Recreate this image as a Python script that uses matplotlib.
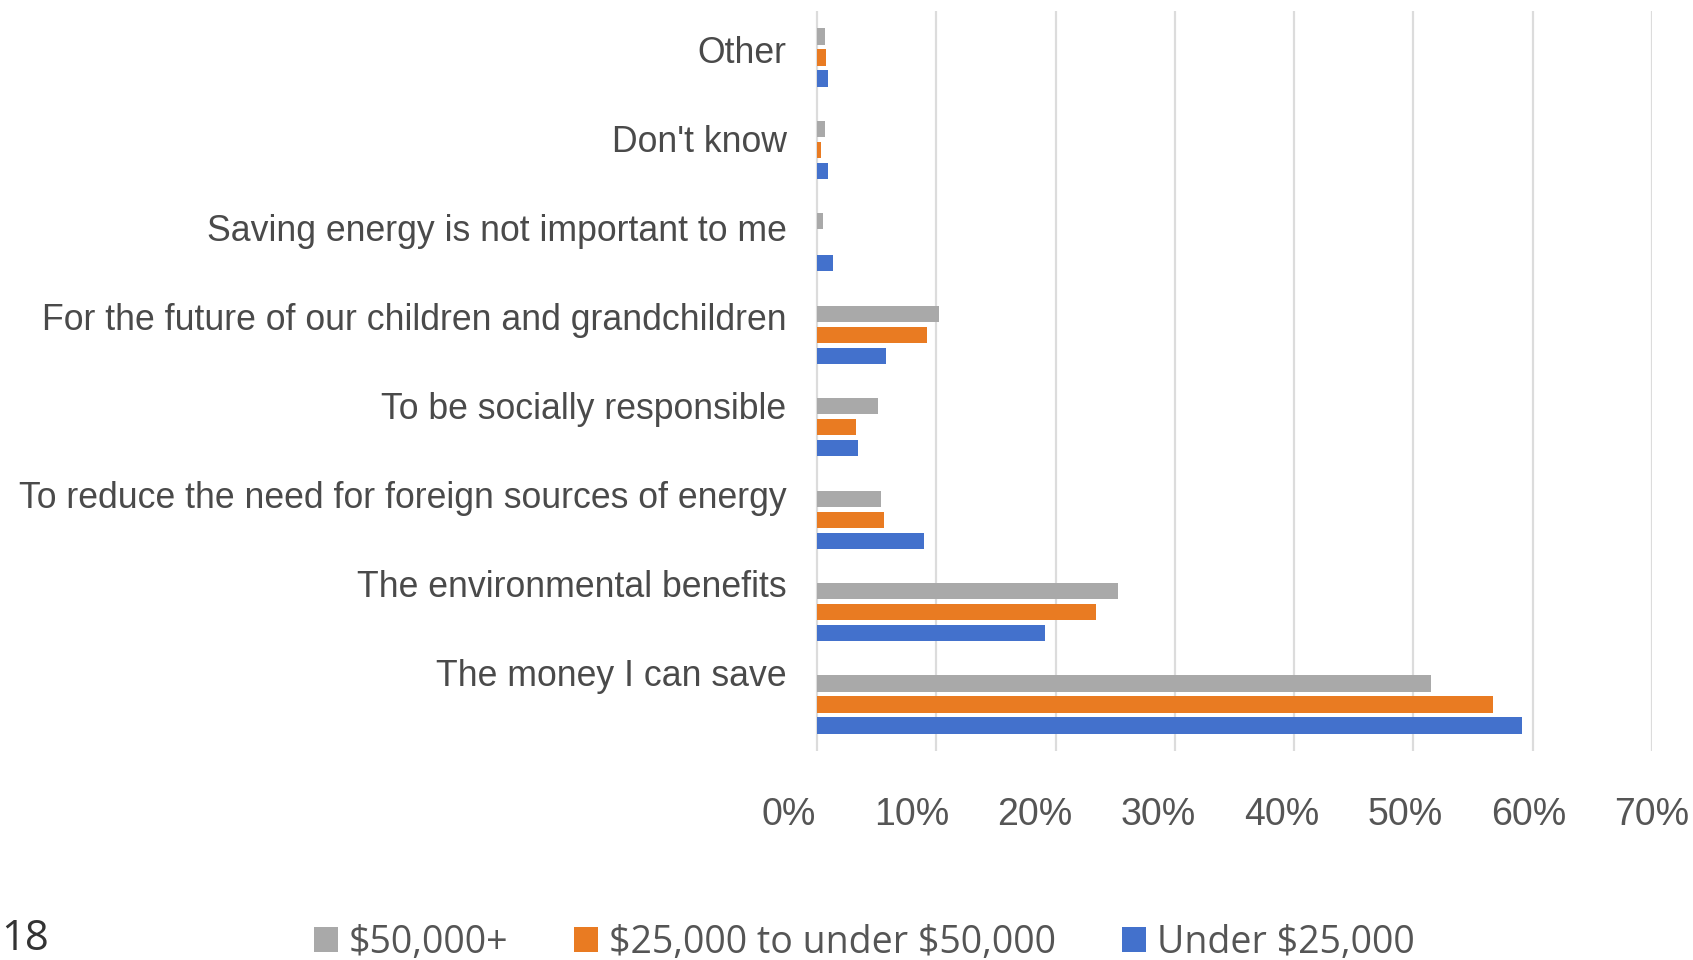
import matplotlib
matplotlib.use("Agg")
import matplotlib.pyplot as plt
import numpy as np
from matplotlib.patches import Patch

# Reasons for saving energy, by household income
categories = [
    "Other",
    "Don't know",
    "Saving energy is not important to me",
    "For the future of our children and grandchildren",
    "To be socially responsible",
    "To reduce the need for foreign sources of energy",
    "The environmental benefits",
    "The money I can save",
]
series_names = [r"\$50,000+", r"\$25,000 to under \$50,000", r"Under \$25,000"]
income_50k_plus = [0.7, 0.7, 0.5, 10.2, 5.1, 5.4, 25.2, 51.5]
income_25k_50k = [0.75, 0.3, 0.0, 9.2, 3.3, 5.6, 23.4, 56.7]
income_under_25k = [0.95, 0.9, 1.3, 5.8, 3.4, 9.0, 19.1, 59.1]
x_tick_values = [0, 10, 20, 30, 40, 50, 60, 70]
page_number = "18"

colors = ["#A9A9A9", "#E97B22", "#4371CC"]
label_font = "Liberation Sans"
legend_font = "Open Sans"
text_color = "#4A4A4A"
grid_color = "#DCDCDC"

fig = plt.figure(figsize=(16.93, 9.60), dpi=100)
# x runs from -2.5 so the shifted 0% label stays inside the axis range
ax = fig.add_axes([0.4650, 0.218, 0.5108, 0.7702])

y = np.arange(len(categories))
pitch = 0.227
height = 0.175
series = [income_50k_plus, income_25k_50k, income_under_25k]
for i, (vals, col) in enumerate(zip(series, colors)):
    ax.barh(y + (i - 1) * pitch, vals, height=height, color=col,
            edgecolor="none", zorder=3)

ax.set_xlim(-2.5, 70)
ax.set_ylim(len(categories) - 0.5, -0.5)
ax.set_xticks(x_tick_values)
ax.xaxis.grid(True, color=grid_color, linewidth=1.6, zorder=0)
ax.tick_params(axis="x", length=0, labelbottom=False)
ax.tick_params(axis="y", length=0, labelleft=False)
for side in ["top", "right", "bottom", "left"]:
    ax.spines[side].set_visible(False)

# Percentage labels sit on a slightly wider scale than the gridlines
sx = ax.secondary_xaxis("bottom",
                        functions=(lambda v: (v + 2.38) / 1.0335,
                                   lambda s: s * 1.0335 - 2.38))
sx.set_xticks(x_tick_values)
sx.set_xticklabels([f"{v}%" for v in x_tick_values])
sx.tick_params(length=0, pad=33, labelsize=27, labelcolor="#555555")
for lab in sx.get_xticklabels():
    lab.set_fontfamily(label_font)
sx.spines["bottom"].set_visible(False)

# Category labels on a slightly tighter spacing than the bar groups
sy = ax.secondary_yaxis("left",
                        functions=(lambda v: (v + 0.084) / 0.963,
                                   lambda s: s * 0.963 - 0.084))
sy.set_yticks(y)
sy.set_yticklabels(categories)
sy.tick_params(length=0, pad=0.5, labelsize=25.7, labelcolor=text_color)
for lab in sy.get_yticklabels():
    lab.set_fontfamily(label_font)
sy.spines["left"].set_visible(False)

handles = [Patch(facecolor=c, edgecolor="none") for c in colors]
fig.legend(handles, series_names, loc="center", bbox_to_anchor=(0.5105, 0.018),
           ncol=3, frameon=False, handlelength=0.64, handleheight=0.64,
           handletextpad=0.3, columnspacing=1.75, labelcolor="#555555",
           prop={"family": legend_font, "size": 27})

fig.text(0.001, 0.0, page_number, ha="left", va="bottom", fontsize=30,
         family=legend_font, color="#333333")

fig.savefig("out.png", dpi=100, facecolor="white")
